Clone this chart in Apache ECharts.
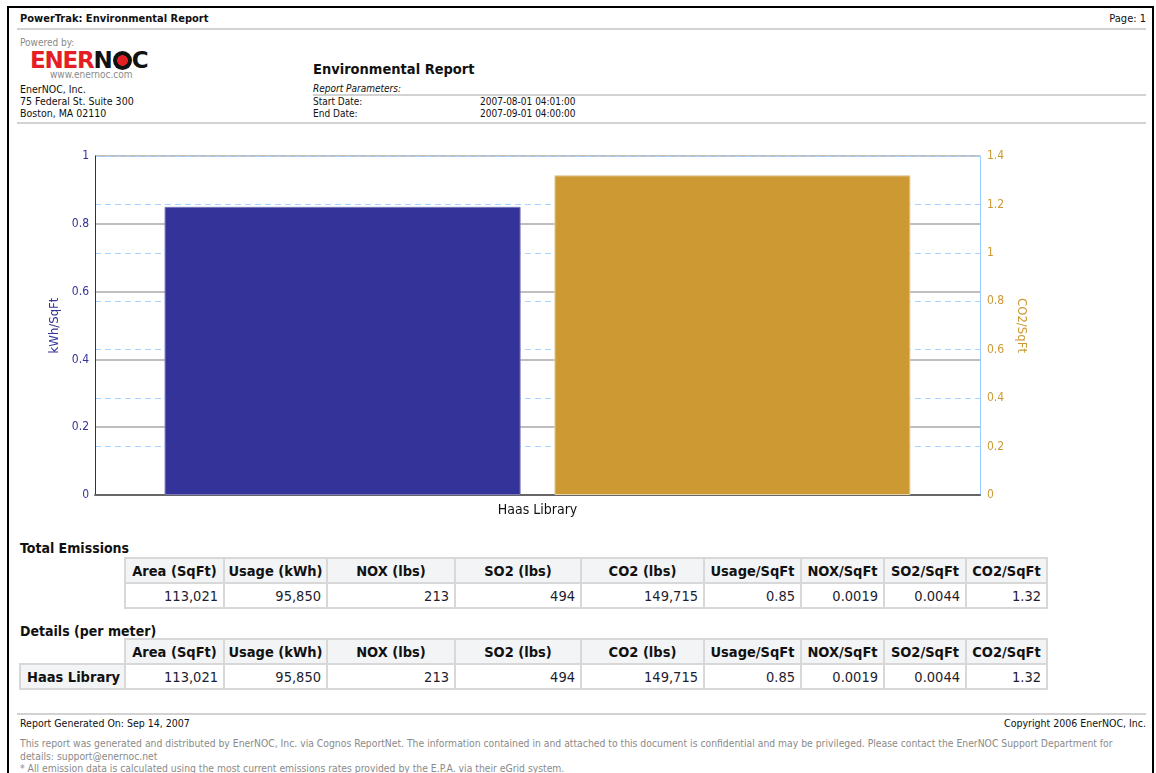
<!DOCTYPE html>
<html>
<head>
<meta charset="utf-8">
<title>Environmental Report</title>
<script src="https://cdn.jsdelivr.net/npm/echarts@6/dist/echarts.min.js"></script>
<style>
  body { margin: 0; background: #fff; font-family: 'DejaVu Sans Condensed', 'DejaVu Sans', sans-serif; color: #111; }
  .abs { position: absolute; white-space: nowrap; line-height: 1; }
  .frame { position: absolute; left: 7px; top: 6px; width: 1143px; height: 820px; border: 2px solid #000; border-bottom: none; z-index: 5; pointer-events: none; }
  .rule { position: absolute; height: 0; border-top: 2px solid #d2d2d2; }
  .small { font-size: 10.5px; }
  .grey { color: #8a8a8a; }
  .fine { font-size: 10.3px; }
  .logo { position: absolute; left: 30px; top: 49px; font-size: 23px; font-weight: bold; letter-spacing: -1.2px; line-height: 1; font-family: 'DejaVu Sans', sans-serif; }
  .logo .red { color: #e31e24; }
  .logo .dot { display: inline-block; width: 19px; height: 19px; border-radius: 50%; vertical-align: -2px;
    background: radial-gradient(circle, #e31e24 0, #e31e24 38%, #111 41%); margin: 0 0 0 1px; }
  table.rep { position: absolute; border-collapse: collapse; table-layout: fixed; font-size: 14.5px; }
  table.rep td { border: 2px solid #d8d8d8; padding: 0 5px; height: 23px; overflow: hidden; white-space: nowrap; }
  table.rep td.h { background: #f3f4f6; font-weight: bold; text-align: center; color: #111; padding: 0 2px; }
  table.rep td.v { text-align: right; color: #1d1d30; }
  table.rep td.rh { background: #f3f4f6; font-weight: bold; text-align: left; padding: 0 0 0 6px; }
  table.rep td.blank { border: none; background: none; }
  .sect { font-size: 14px; font-weight: bold; }
  #main { position: absolute; left: 0; top: 130px; width: 1156px; height: 395px; }
</style>
</head>
<body>
<div class="frame"></div>

<!-- page header -->
<div class="abs" style="left:20px;top:13px;font-size:11px;font-weight:bold;">PowerTrak: Environmental Report</div>
<div class="abs" style="right:10px;top:13px;font-size:11px;">Page: 1</div>
<div class="rule" style="left:17px;width:1129px;top:28px;"></div>

<div class="abs grey" style="left:20px;top:38px;font-size:10px;">Powered by:</div>
<div class="logo"><span class="red">ENER</span>N<span class="dot"></span>C</div>
<div class="abs grey" style="left:50px;top:70px;font-size:10px;">www.enernoc.com</div>
<div class="abs small" style="left:20px;top:84px;">EnerNOC, Inc.</div>
<div class="abs small" style="left:20px;top:96px;">75 Federal St. Suite 300</div>
<div class="abs small" style="left:20px;top:108px;">Boston, MA 02110</div>

<div class="abs" style="left:313px;top:62px;font-size:14.5px;font-weight:bold;">Environmental Report</div>
<div class="abs" style="left:313px;top:84px;font-size:10px;font-style:italic;">Report Parameters:</div>
<div class="rule" style="left:313px;width:833px;top:94px;"></div>
<div class="abs" style="left:313px;top:97px;font-size:10px;">Start Date:</div>
<div class="abs" style="left:480px;top:97px;font-size:10px;">2007-08-01 04:01:00</div>
<div class="abs" style="left:313px;top:109px;font-size:10px;">End Date:</div>
<div class="abs" style="left:480px;top:109px;font-size:10px;">2007-09-01 04:00:00</div>
<div class="rule" style="left:17px;width:1129px;top:122px;"></div>

<!-- chart -->
<div id="main"></div>

<!-- tables -->
<div class="abs sect" style="left:20px;top:541px;">Total Emissions</div>
<table class="rep" id="totalTable" style="left:124px;top:557px;"></table>
<div class="abs sect" style="left:20px;top:624px;">Details (per meter)</div>
<table class="rep" id="meterTable" style="left:19px;top:638px;"></table>

<!-- footer -->
<div class="rule" style="left:17px;width:1129px;top:713px;"></div>
<div class="abs small" style="left:20px;top:718px;">Report Generated On: Sep 14, 2007</div>
<div class="abs small" style="right:10px;top:718px;">Copyright 2006 EnerNOC, Inc.</div>
<div class="abs fine grey" style="left:20px;top:738px;">This report was generated and distributed by EnerNOC, Inc. via Cognos ReportNet. The information contained in and attached to this document is confidential and may be privileged. Please contact the EnerNOC Support Department for</div>
<div class="abs fine grey" style="left:20px;top:751px;">details: support@enernoc.net</div>
<div class="abs fine grey" style="left:20px;top:763px;">* All emission data is calculated using the most current emissions rates provided by the E.P.A. via their eGrid system.</div>

<script>
  // chart data
  var sites = ['Haas Library'];
  var usagePerSqFt = [0.85];
  var co2PerSqFt = [1.32];

  // table data
  var columns = ['Area (SqFt)', 'Usage (kWh)', 'NOX (lbs)', 'SO2 (lbs)', 'CO2 (lbs)', 'Usage/SqFt', 'NOX/SqFt', 'SO2/SqFt', 'CO2/SqFt'];
  var colWidths = [99, 103, 128, 126, 123, 97, 83, 82, 81];
  var totalRow = ['113,021', '95,850', '213', '494', '149,715', '0.85', '0.0019', '0.0044', '1.32'];
  var meterNames = ['Haas Library'];
  var meterRows = [['113,021', '95,850', '213', '494', '149,715', '0.85', '0.0019', '0.0044', '1.32']];

  // build tables
  function buildTable(el, rowHeadWidth, names, rows) {
    var html = '<colgroup>';
    if (rowHeadWidth) html += '<col style="width:' + rowHeadWidth + 'px">';
    colWidths.forEach(function (w) { html += '<col style="width:' + w + 'px">'; });
    html += '</colgroup><tr>';
    if (rowHeadWidth) html += '<td class="blank"></td>';
    columns.forEach(function (c) { html += '<td class="h">' + c + '</td>'; });
    html += '</tr>';
    rows.forEach(function (r, i) {
      html += '<tr>';
      if (rowHeadWidth) html += '<td class="rh">' + names[i] + '</td>';
      r.forEach(function (v) { html += '<td class="v">' + v + '</td>'; });
      html += '</tr>';
    });
    el.innerHTML = html;
  }
  buildTable(document.getElementById('totalTable'), 0, [], [totalRow]);
  buildTable(document.getElementById('meterTable'), 105, meterNames, meterRows);

  var font = "'DejaVu Sans Condensed', 'DejaVu Sans', sans-serif";
  var myChart = echarts.init(document.getElementById('main'));
  myChart.setOption({
    animation: false,
    backgroundColor: 'transparent',
    textStyle: { fontFamily: font },
    grid: { left: 95, top: 26, width: 885, height: 339 },
    xAxis: {
      type: 'category',
      data: sites,
      axisLine: { lineStyle: { color: '#666', width: 2 } },
      axisTick: { show: false },
      axisLabel: { color: '#111', fontSize: 14, margin: 8, fontFamily: font }
    },
    yAxis: [{
      type: 'value',
      min: 0, max: 1, interval: 0.2,
      name: 'kWh/SqFt',
      nameLocation: 'middle',
      nameRotate: 90,
      nameGap: 34,
      nameTextStyle: { color: '#333399', fontSize: 13, fontFamily: font },
      axisLine: { show: true, lineStyle: { color: '#333', width: 1 } },
      axisTick: { show: false },
      axisLabel: { color: '#333399', fontSize: 12, margin: 6, fontFamily: font },
      splitLine: { show: true, lineStyle: { color: '#a8a8a8', width: 1.5 } }
    }, {
      type: 'value',
      min: 0, max: 1.4, interval: 0.2,
      name: 'CO2/SqFt',
      nameLocation: 'middle',
      nameRotate: -90,
      nameGap: 31,
      nameTextStyle: { color: '#cc9933', fontSize: 13, fontFamily: font },
      axisLine: { show: true, lineStyle: { color: '#99ccff', width: 1 } },
      axisTick: { show: false },
      axisLabel: { color: '#cc9933', fontSize: 12, margin: 7, fontFamily: font },
      splitLine: { show: true, lineStyle: { color: '#a8d4ff', width: 1, type: [6, 4] } }
    }],
    series: [{
      name: 'kWh/SqFt',
      type: 'bar',
      yAxisIndex: 0,
      data: usagePerSqFt,
      barWidth: 356,
      barGap: '9.5%',
      itemStyle: { color: '#333399', borderColor: '#7777bb', borderWidth: 1 }
    }, {
      name: 'CO2/SqFt',
      type: 'bar',
      yAxisIndex: 1,
      data: co2PerSqFt,
      barWidth: 356,
      itemStyle: { color: '#cc9933', borderColor: '#e6d2a8', borderWidth: 1 }
    }]
  });
</script>
</body>
</html>
